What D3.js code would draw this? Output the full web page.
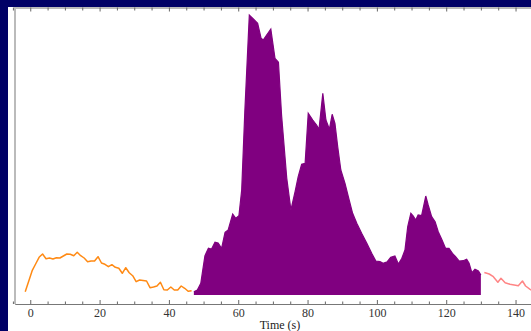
<!DOCTYPE html>
<html>
<head>
<meta charset="utf-8">
<script src="https://cdn.jsdelivr.net/npm/d3@7"></script>
<style>
  html, body { margin: 0; padding: 0; background: #000066; }
  svg { display: block; }
  .tick text { font-family: "Liberation Serif", "Times New Roman", serif; font-size: 12px; fill: #333; }
</style>
</head>
<body>
<svg id="chart" width="531" height="331"></svg>
<script>
// Light curve segments: time (s) and count rate (arbitrary units)
const preTime = [-1.45, -0.45, 0.55, 1.55, 2.55, 3.55, 4.55, 5.55, 6.55, 7.55, 8.55, 9.55,
  10.55, 11.55, 12.55, 13.55, 14.55, 15.55, 16.55, 17.55, 18.55, 19.55, 20.55, 21.55,
  22.55, 23.55, 24.55, 25.55, 26.55, 27.55, 28.55, 29.55, 30.55, 31.55, 32.55, 33.55,
  34.55, 35.55, 36.55, 37.55, 38.55, 39.55, 40.55, 41.55, 42.55, 43.55, 44.55, 45.55, 46.55];
const preRate = [3.3, 13.8, 24.3, 31, 37.7, 41, 36.3, 37, 36, 37.3, 37, 39,
  41, 40.7, 39.3, 42.7, 39.3, 37, 33.3, 34, 34, 38.3, 32, 30.7,
  28.3, 30.3, 27.7, 26.7, 21.7, 27.3, 22.3, 19.3, 13.3, 15, 14.5, 14,
  7.3, 8, 9, 12.7, 5.3, 5, 8, 5, 5, 9, 6.7, 3.7, 4.3];

const burstTime = [47.2, 48.2, 49.2, 49.7, 50.4, 51.4, 52.3, 53.3, 54.2, 55.2, 56.2, 57.1,
  58.4, 59.3, 60.2, 61, 61.9, 63.2, 64.5, 65.6, 66.6, 67.2, 69.4, 70.6, 71.6, 72.5,
  74, 75.2, 76.4, 77.3, 78.3, 79.3, 80.2, 81.5, 82.6, 83.3, 84.4, 85.3, 86.3, 87.1,
  87.9, 88.7, 89.6, 90.8, 92, 93, 94.2, 95.6, 97.1, 98.5, 99.7, 100.9, 101.8, 103,
  104, 105.2, 106.2, 107.2, 108.1, 108.9, 109.8, 110.5, 111.2, 111.9, 112.9, 114.1,
  114.8, 115.8, 116.8, 117.7, 118.7, 119.8, 120.8, 121.8, 122.7, 123.7, 124.9, 125.9,
  126.6, 127.4, 128.3, 129.3, 130];
const burstRate = [3.3, 5, 11.7, 23.3, 39.3, 46.7, 46, 52.7, 52, 46.7, 62.7, 65,
  81, 76.7, 79.3, 105, 183.3, 280, 275.7, 271.7, 256.7, 255, 266, 236.7, 232.7, 180,
  116.7, 85, 103.3, 118.3, 130.7, 131.7, 181.7, 175, 170, 165.7, 201.7, 175, 165.7, 180.7,
  171.7, 148.3, 125, 111.7, 95, 81.7, 71.7, 61.7, 51.7, 41.7, 34, 33.3, 31.7, 33.3,
  37.7, 39, 31, 36.7, 45, 68.3, 81.7, 79, 75, 80, 79.3, 99,
  90, 78.3, 73.3, 63.3, 55.7, 46.7, 46.7, 41.7, 38.3, 34, 34.3, 35.7,
  31.7, 22.3, 25.7, 24, 20];

const postTime = [131, 132.4, 133.6, 134.9, 135.8, 137, 138.4, 139.6, 140.8, 142, 142.9, 144.2, 145.4];
const postRate = [22.5, 21, 18.3, 12.7, 16.7, 12.3, 10.7, 10, 9.3, 14, 9, 5.7, 3];

const majorTicks = [0, 20, 40, 60, 80, 100, 120, 140];
const minorTicks = [-5, 5, 10, 15, 25, 30, 35, 45, 50, 55, 65, 70, 75, 85, 90, 95, 105, 110, 115, 125, 130, 135, 145];
const xLabel = "Time (s)";

const svg = d3.select("#chart");
const W = 531, H = 331;

// white panel
svg.append("rect").attr("x", 8).attr("y", 7).attr("width", W - 8).attr("height", H - 7).attr("fill", "#ffffff");

const frame = { left: 15, right: 545, top: 7, bottom: 304 };
const x = d3.scaleLinear().domain([-4.4, 148.5]).range([frame.left, frame.right]);
const y = d3.scaleLinear().domain([-9, 288]).range([frame.bottom, frame.top]);

const zip = (ts, vs) => ts.map((t, i) => ({ t, v: vs[i] }));
const pre = zip(preTime, preRate);
const burst = zip(burstTime, burstRate);
const post = zip(postTime, postRate);

const line = d3.line().x(d => x(d.t)).y(d => y(d.v));
const area = d3.area().x(d => x(d.t)).y0(y(0)).y1(d => y(d.v));

const plot = svg.append("g");

plot.append("path").datum(burst).attr("d", area).attr("fill", "#800080");
plot.append("path").datum(burst).attr("d", line).attr("fill", "none").attr("stroke", "#800080").attr("stroke-width", 1.2);

plot.append("path").datum(pre).attr("d", line).attr("fill", "none")
  .attr("stroke", "#ff8a14").attr("stroke-width", 1.5).attr("stroke-linejoin", "round");
plot.append("path").datum(post).attr("d", line).attr("fill", "none")
  .attr("stroke", "#ff8585").attr("stroke-width", 1.5).attr("stroke-linejoin", "round");

// frame axes
const styleAxis = g => {
  g.select(".domain").attr("stroke", "#777").attr("stroke-width", 1);
  g.selectAll(".tick line").attr("stroke", "#666");
};

svg.append("g").attr("transform", `translate(0,${frame.bottom})`)
  .call(d3.axisBottom(x).tickValues(majorTicks).tickSize(-4).tickPadding(4).tickFormat(d3.format("d")))
  .call(styleAxis)
  .call(g => g.selectAll(".tick text").attr("fill", "#333"));
svg.append("g").attr("transform", `translate(0,${frame.bottom})`)
  .call(d3.axisBottom(x).tickValues(minorTicks).tickSize(-2.5).tickFormat(""))
  .call(styleAxis)
  .call(g => g.select(".domain").remove());

svg.append("g").attr("transform", `translate(0,${frame.top + 0.5})`)
  .call(d3.axisTop(x).tickValues(majorTicks).tickSize(-4).tickFormat(""))
  .call(styleAxis);
svg.append("g").attr("transform", `translate(0,${frame.top + 0.5})`)
  .call(d3.axisTop(x).tickValues(minorTicks).tickSize(-3).tickFormat(""))
  .call(styleAxis)
  .call(g => g.select(".domain").remove());

// left frame edge
svg.append("line").attr("x1", frame.left).attr("x2", frame.left)
  .attr("y1", frame.top).attr("y2", frame.bottom)
  .attr("stroke", "#bbbbbb").attr("stroke-width", 2);

svg.append("text").attr("x", (frame.left + frame.right) / 2).attr("y", 329)
  .attr("text-anchor", "middle")
  .attr("font-family", "Liberation Serif, Times New Roman, serif")
  .attr("font-size", 12).attr("fill", "#222")
  .text(xLabel);
</script>
</body>
</html>
